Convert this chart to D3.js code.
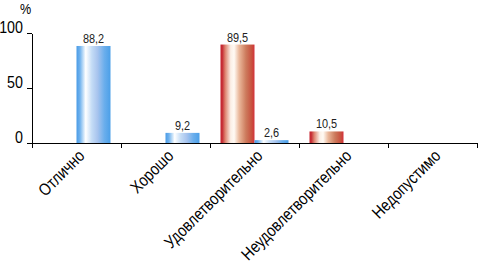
<!doctype html>
<html lang="ru">
<head>
<meta charset="utf-8">
<style>
  body { margin: 0; background: #fff; }
  svg { display: block; font-family: "Liberation Sans", Arial, sans-serif; }
  .axis path, .axis line { stroke: #000; stroke-width: 1; shape-rendering: crispEdges; }
</style>
</head>
<body>
<script src="https://cdn.jsdelivr.net/npm/d3@7"></script>
<script>
var categories = ["Отлично", "Хорошо", "Удовлетворительно", "Неудовлетворительно", "Недопустимо"];
var seriesNames = ["red", "blue"];
var blueValues = [88.2, 9.2, 2.6, null, null];
var redValues = [null, null, 89.5, 10.5, null];
var yTicks = [0, 50, 100];

var width = 479, height = 265;
var plotLeft = 32, plotRight = 477, plotTop = 33, plotBottom = 143;
var narrow = " scale(0.84,1)";

var svg = d3.select("body").append("svg")
  .attr("width", width)
  .attr("height", height);

var defs = svg.append("defs");
function grad(id, stops) {
  var g = defs.append("linearGradient").attr("id", id)
    .attr("x1", "0%").attr("x2", "100%").attr("y1", "0%").attr("y2", "0%");
  stops.forEach(function (s) {
    g.append("stop").attr("offset", s[0]).attr("stop-color", s[1]);
  });
}
grad("gblue", [["0%", "#4a9be6"], ["10%", "#6fb2ee"], ["27%", "#ffffff"], ["45%", "#c4dcf6"], ["62%", "#a8c4ee"], ["82%", "#6aaeec"], ["100%", "#4b9fe8"]]);
grad("gred", [["0%", "#c4202c"], ["6%", "#c8343a"], ["14%", "#de8470"], ["30%", "#fbefe6"], ["40%", "#fffaf4"], ["55%", "#eab79a"], ["75%", "#cc7a5c"], ["92%", "#c8503e"], ["100%", "#d4303a"]]);

var x0 = d3.scaleBand().domain(categories).range([plotLeft, plotRight]).padding(0);
var bw = x0.bandwidth();
var x1 = d3.scaleBand().domain(seriesNames).range([bw / 2 - 34, bw / 2 + 34]).padding(0);
var y = d3.scaleLinear().domain([0, 100]).range([plotBottom, plotTop]);

var rows = [];
categories.forEach(function (c, i) {
  if (redValues[i] != null) rows.push({ cat: c, s: "red", v: redValues[i] });
  if (blueValues[i] != null) rows.push({ cat: c, s: "blue", v: blueValues[i] });
});

svg.append("g").selectAll("rect")
  .data(rows).enter().append("rect")
  .attr("x", function (d) { return x0(d.cat) + x1(d.s); })
  .attr("y", function (d) { return y(d.v); })
  .attr("width", x1.bandwidth())
  .attr("height", function (d) { return y(0) - y(d.v); })
  .attr("fill", function (d) { return d.s === "red" ? "url(#gred)" : "url(#gblue)"; });

svg.append("g").selectAll("text")
  .data(rows).enter().append("text")
  .attr("transform", function (d) {
    return "translate(" + (x0(d.cat) + x1(d.s) + x1.bandwidth() / 2) + "," + (y(d.v) - 3) + ")" + narrow;
  })
  .attr("text-anchor", "middle")
  .attr("font-size", 13)
  .attr("fill", "#222")
  .text(function (d) { return String(d.v).replace(".", ","); });

// y axis
var yAxis = svg.append("g").attr("class", "axis")
  .attr("transform", "translate(" + plotLeft + ",0)")
  .call(d3.axisLeft(y).tickValues(yTicks).tickSize(5).tickSizeOuter(0));
yAxis.selectAll(".tick text")
  .attr("font-size", 17)
  .attr("font-family", null)
  .attr("fill", "#000")
  .attr("x", null)
  .attr("dy", null)
  .attr("transform", "translate(-9,-1)" + narrow);

// x axis with ticks on category boundaries
var xAxis = svg.append("g").attr("class", "axis")
  .attr("transform", "translate(0," + plotBottom + ")");
xAxis.append("line").attr("x1", plotLeft).attr("x2", plotRight).attr("y1", 0).attr("y2", 0);
var bounds = categories.map(function (c) { return x0(c); }).concat([plotRight]);
xAxis.selectAll("line.tick")
  .data(bounds).enter().append("line")
  .attr("class", "tick")
  .attr("x1", function (d) { return d; })
  .attr("x2", function (d) { return d; })
  .attr("y1", 0).attr("y2", 5);

xAxis.selectAll("text")
  .data(categories).enter().append("text")
  .attr("transform", function (c) {
    return "translate(" + (x0(c) + bw / 2 + 9) + ",14) rotate(-45)" + narrow;
  })
  .attr("text-anchor", "end")
  .attr("font-size", 17)
  .attr("fill", "#000")
  .text(function (c) { return c; });

svg.append("text")
  .attr("transform", "translate(20,14)" + narrow)
  .attr("font-size", 15)
  .text("%");
</script>
</body>
</html>
